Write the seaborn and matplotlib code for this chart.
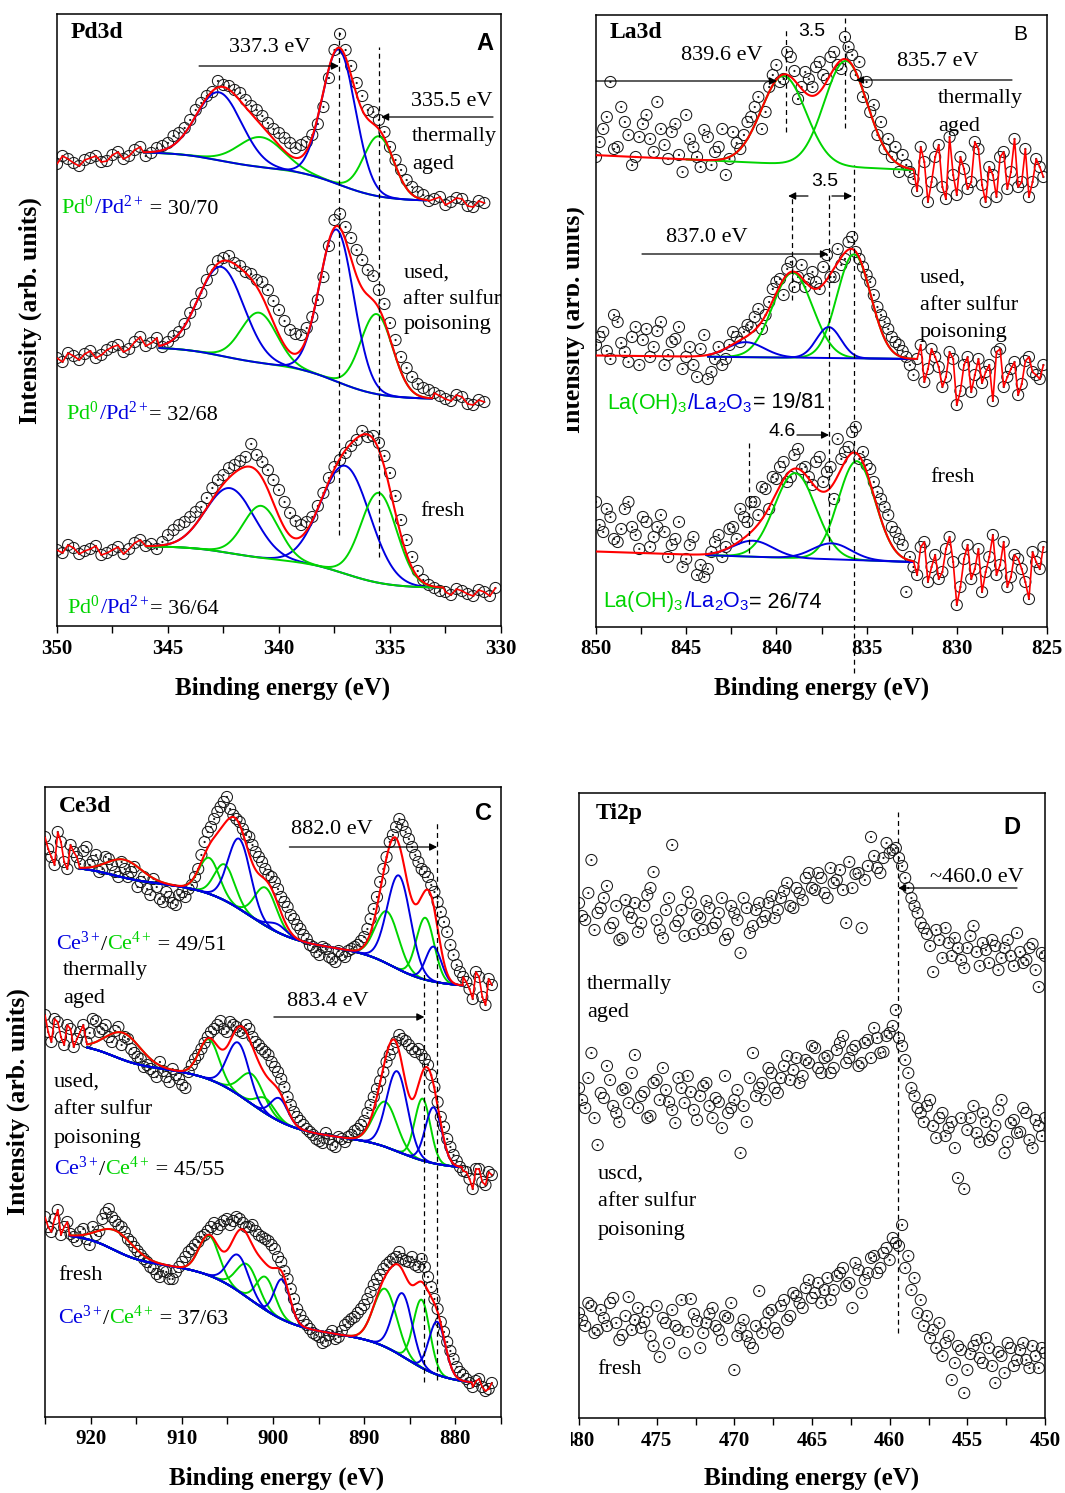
import numpy as np
import pandas as pd
import matplotlib
matplotlib.use("Agg")
import matplotlib.pyplot as plt
import seaborn as sns
from matplotlib.offsetbox import TextArea, HPacker, AnnotationBbox
from matplotlib.patches import Rectangle
from matplotlib.ticker import MultipleLocator

sns.set_style("white")
SERIF = ["Liberation Serif", "DejaVu Serif"]
SANS = ["Liberation Sans", "DejaVu Sans"]
plt.rcParams["font.family"] = SERIF
plt.rcParams["text.color"] = "black"
plt.rcParams["mathtext.fontset"] = "custom"
plt.rcParams["mathtext.rm"] = "Liberation Serif"
plt.rcParams["mathtext.it"] = "Liberation Serif:italic"
plt.rcParams["mathtext.bf"] = "Liberation Serif:bold"
plt.rcParams["mathtext.sf"] = "Liberation Sans"

GREEN = "#00D400"
BLUE = "#0000E0"
RED = "#FF0000"

# ---------------- data: Pd3d ----------------
PD_ENERGY = np.arange(350.0, 330.4, -0.5)          # 350 ... 330.5
PD_ENERGY_B = PD_ENERGY - 0.25                     # 349.75 ... 330.25
PD_AGED_I = [462, 467, 460, 468, 464, 471, 467, 476, 470, 478, 483, 493, 506, 523, 534, 541, 536, 526, 516, 503,
             493, 483, 481, 491, 519, 576, 576, 543, 516, 506, 479, 456, 439, 431, 427, 421, 428, 420, 425]
PD_AGED_I_B = [470, 463, 466, 470, 465, 474, 470, 479, 473, 480, 490, 498, 516, 530, 545, 540, 533, 520, 510, 497,
               488, 478, 484, 502, 548, 592, 560, 530, 514, 494, 466, 446, 434, 425, 429, 424, 427, 419, 423]
PD_USED_I = [268, 273, 266, 275, 271, 279, 274, 284, 280, 288, 284, 294, 313, 333, 356, 368, 363, 354, 346, 336,
             316, 296, 291, 309, 349, 406, 399, 376, 356, 336, 303, 269, 249, 238, 233, 227, 231, 222, 226]
PD_USED_I_B = [264, 270, 272, 268, 276, 281, 277, 289, 283, 279, 290, 302, 322, 346, 365, 370, 360, 352, 344, 325,
               305, 292, 298, 326, 380, 412, 388, 366, 350, 322, 286, 258, 242, 236, 230, 225, 229, 221, 224]
PD_FRESH_I = [76, 81, 72, 77, 71, 76, 72, 83, 80, 77, 91, 101, 109, 119, 138, 151, 161, 169, 171, 156,
              136, 113, 101, 109, 133, 159, 173, 186, 189, 183, 153, 106, 69, 46, 38, 34, 37, 32, 36, 30]
PD_FRESH_I_B = [73, 78, 75, 80, 73, 79, 77, 86, 82, 84, 96, 104, 114, 128, 146, 158, 165, 182, 164, 146,
                124, 105, 104, 120, 148, 166, 180, 195, 190, 170, 130, 86, 55, 41, 35, 31, 35, 30, 34, 38]
# fitted components: (colour, centre eV, height, FWHM)
PD_AGED_PEAKS = [("G", 335.5, 60, 1.6), ("G", 340.8, 30, 2.4), ("B", 337.3, 135, 1.75), ("B", 342.7, 68, 2.4)]
PD_USED_PEAKS = [("G", 335.6, 80, 1.7), ("G", 340.9, 50, 1.9), ("B", 337.4, 152, 1.8), ("B", 342.6, 89, 2.4)]
PD_FRESH_PEAKS = [("B", 337.0, 108, 2.6), ("B", 342.2, 65, 2.6), ("G", 335.5, 90, 1.9), ("G", 340.8, 52, 1.9)]
PD_AGED_BG = (474, 425, 342.7, 337.3)   # high level, low level, step centres
PD_USED_BG = (279, 227, 342.6, 337.4)
PD_FRESH_BG = (80, 38, 342.2, 337.0)
PD_AGED_FIT = (333.35, 346.1)
PD_USED_FIT = (333.1, 345.4)
PD_FRESH_FIT = (332.6, 346.0)

# ---------------- data: La3d ----------------
LA_ENERGY = np.arange(850.0, 825.1, -0.4)          # 850 ... 825.2
LA_ENERGY_B = LA_ENERGY[:-1] - 0.2                 # 849.8 ... 825.4
LA_AGED_I = [470, 498, 545, 480, 505, 462, 490, 512, 475, 498, 468, 503, 455, 488, 470, 497, 462, 480, 452, 495,
             478, 505, 520, 498, 540, 562, 548, 570, 528, 555, 540, 565, 548, 575, 558, 580, 552, 530, 515, 492,
             478, 470, 455, 462, 448, 480, 425, 470, 440, 490, 432, 458, 445, 478, 425, 452, 470, 438, 488, 445,
             430, 468, 450]
LA_AGED_I_B = [485, 510, 478, 520, 492, 470, 503, 488, 525, 482, 495, 472, 512, 480, 460, 490, 475, 498, 468, 484,
               492, 510, 530, 515, 552, 545, 575, 556, 540, 548, 560, 552, 570, 562, 590, 572, 565, 545, 522, 505,
               488, 480, 472, 455, 436, 465, 445, 482, 428, 452, 470, 438, 485, 442, 460, 430, 475, 455, 440, 478,
               445, 460]
LA_USED_I = [282, 295, 268, 305, 275, 290, 262, 298, 280, 305, 272, 288, 258, 280, 250, 292, 255, 280, 268, 295,
             285, 302, 310, 298, 325, 345, 332, 365, 350, 340, 355, 338, 372, 350, 362, 385, 375, 360, 345, 320,
             305, 290, 282, 270, 252, 282, 258, 270, 240, 275, 222, 262, 235, 268, 255, 226, 278, 250, 265, 243,
             270, 252, 262]
LA_USED_I_B = [290, 276, 312, 284, 265, 300, 287, 270, 296, 262, 285, 300, 270, 262, 278, 248, 268, 262, 282, 290,
               295, 300, 318, 312, 338, 348, 358, 340, 362, 348, 345, 360, 350, 378, 368, 390, 368, 352, 332, 312,
               298, 285, 276, 262, 268, 245, 278, 260, 250, 268, 236, 270, 252, 244, 262, 275, 240, 258, 232, 266,
               255, 248]
LA_FRESH_I = [125, 95, 110, 85, 118, 100, 78, 105, 90, 112, 70, 88, 60, 82, 52, 50, 75, 92, 80, 100,
              118, 105, 125, 140, 118, 148, 165, 150, 178, 160, 142, 170, 155, 128, 168, 180, 200, 175, 158, 135,
              120, 100, 88, 35, 60, 80, 45, 72, 55, 90, 22, 68, 48, 78, 55, 92, 62, 40, 72, 58,
              28, 65, 80]
LA_FRESH_I_B = [102, 118, 88, 98, 125, 92, 110, 80, 100, 95, 82, 105, 68, 90, 62, 58, 85, 70, 98, 88,
                110, 125, 112, 138, 150, 160, 145, 172, 158, 150, 165, 145, 160, 188, 175, 195, 168, 162, 145, 128,
                112, 95, 82, 70, 52, 85, 60, 48, 78, 65, 40, 82, 58, 35, 70, 52, 85, 50, 68, 45,
                75, 58]
LA_AGED_PEAKS = [("G", 839.6, 88, 2.9), ("G", 836.15, 106, 2.8)]
LA_USED_PEAKS = [("G", 839.1, 85, 2.6), ("G", 835.7, 104, 2.2), ("B", 841.7, 15, 2.4), ("B", 837.1, 31, 1.6)]
LA_FRESH_PEAKS = [("G", 838.96, 85, 2.7), ("G", 835.55, 99, 2.4), ("B", 841.3, 16, 2.6), ("B", 836.93, 16, 2.5)]
LA_AGED_BG = (457, 0.85)     # level at 832.5 eV, slope per eV
LA_USED_BG = (268, 0.2)
LA_FRESH_BG = (65, 0.6)
LA_AGED_FIT = (832.4, 845.0)
LA_USED_FIT = (832.3, 843.8)
LA_FRESH_FIT = (832.4, 843.9)

# ---------------- data: Ce3d ----------------
CE_ENERGY = np.arange(925.0, 875.9, -0.7)          # 925 ... 876
CE_ENERGY_B = CE_ENERGY[:-1] - 0.35                # 924.65 ... 876.35
CE_AGED_I = [580, 560, 585, 555, 572, 560, 566, 552, 562, 548, 558, 545, 555, 540, 550, 535, 528, 538, 518, 525,
             514, 522, 520, 532, 548, 575, 590, 605, 615, 608, 598, 588, 580, 565, 555, 542, 535, 520, 510, 498,
             488, 478, 470, 462, 468, 458, 466, 460, 468, 472, 480, 498, 520, 548, 575, 590, 592, 578, 562, 548,
             540, 525, 505, 485, 462, 445, 435, 418, 440, 412, 432]
CE_AGED_I_B = [568, 552, 575, 548, 565, 553, 570, 556, 545, 560, 552, 540, 548, 545, 530, 540, 522, 530, 515, 520,
               512, 525, 528, 540, 562, 585, 598, 610, 620, 602, 595, 582, 572, 560, 548, 540, 528, 515, 502, 492,
               482, 472, 465, 470, 460, 455, 462, 466, 470, 476, 488, 508, 535, 560, 582, 598, 585, 570, 555, 545,
               532, 515, 495, 472, 452, 440, 428, 445, 420, 438]
CE_USED_I = [402, 375, 395, 372, 388, 378, 392, 384, 396, 388, 380, 386, 372, 378, 364, 358, 352, 345, 355, 340,
             348, 338, 329, 352, 362, 374, 385, 392, 388, 395, 390, 384, 388, 375, 368, 362, 350, 338, 320, 305,
             296, 288, 282, 276, 284, 272, 280, 275, 282, 288, 296, 312, 328, 345, 362, 375, 378, 372, 365, 362,
             352, 330, 300, 278, 262, 250, 245, 228, 248, 232, 242]
CE_USED_I_B = [385, 398, 380, 392, 370, 385, 375, 398, 385, 392, 375, 390, 380, 368, 360, 350, 348, 340, 346, 335,
               342, 332, 345, 358, 368, 380, 388, 396, 385, 392, 386, 392, 380, 372, 365, 355, 345, 330, 312, 300,
               292, 285, 278, 274, 278, 270, 278, 280, 286, 292, 304, 320, 336, 355, 368, 382, 376, 368, 368, 358,
               342, 315, 290, 270, 256, 246, 238, 248, 235, 245]
CE_FRESH_I = [200, 185, 207, 190, 183, 176, 188, 172, 182, 198, 208, 196, 190, 178, 170, 162, 155, 148, 140, 145,
              138, 150, 160, 168, 175, 182, 190, 188, 196, 192, 200, 194, 190, 186, 180, 176, 168, 155, 138, 118,
              102, 92, 84, 80, 76, 86, 80, 92, 98, 104, 112, 125, 138, 148, 155, 160, 158, 155, 152, 158,
              140, 118, 95, 75, 58, 45, 38, 30, 38, 26, 34]
CE_FRESH_I_B = [190, 198, 182, 195, 180, 185, 178, 190, 186, 204, 200, 192, 185, 175, 166, 158, 150, 143, 146, 138,
                145, 155, 165, 172, 180, 186, 194, 192, 198, 196, 198, 190, 192, 182, 178, 172, 160, 146, 128, 108,
                96, 88, 82, 74, 82, 78, 86, 95, 100, 108, 118, 132, 142, 152, 158, 165, 156, 160, 150, 150,
                130, 108, 85, 66, 50, 42, 34, 36, 30, 28]
CE_AGED_PEAKS = [("G", 916.3, 18, 4.5), ("G", 907.0, 36, 2.6), ("G", 905.3, 36, 2.6), ("G", 900.8, 38, 2.8),
                 ("G", 887.5, 52, 3.0), ("G", 883.3, 62, 2.3),
                 ("B", 903.7, 70, 2.9), ("B", 899.5, 8, 2.4), ("B", 886.2, 94, 3.0), ("B", 882.4, 35, 2.0)]
CE_USED_PEAKS = [("G", 916.4, 27, 4.5), ("G", 907.0, 40, 2.6), ("G", 902.3, 30, 3.0), ("G", 900.8, 15, 2.4),
                 ("G", 887.7, 45, 3.0), ("G", 883.6, 62, 2.0),
                 ("B", 903.8, 52, 2.8), ("B", 899.3, 23, 2.2), ("B", 886.4, 80, 2.7), ("B", 882.4, 56, 2.1)]
CE_FRESH_PEAKS = [("G", 917.2, 20, 4.5), ("G", 907.0, 40, 2.6), ("G", 902.8, 33, 2.8), ("G", 900.8, 33, 2.4),
                  ("G", 887.7, 58, 3.0), ("G", 883.7, 68, 2.1),
                  ("B", 903.8, 36, 2.7), ("B", 899.0, 40, 2.0), ("B", 885.8, 63, 2.5), ("B", 882.0, 53, 2.1)]
# background: (low, slope, satellite step, 3d3/2 step, 3d5/2 step, 3d5/2 step centre, width)
CE_AGED_BG = (431, 0.6, 10, 54, 29, 886.8, 1.8)
CE_USED_BG = (249, 0.6, 18, 58, 22, 886.0, 1.8)
CE_FRESH_BG = (34, 0.6, 23, 59, 40, 885.3, 2.0)
CE_AGED_FIT = (879.2, 921.2)
CE_USED_FIT = (879.3, 920.4)
CE_FRESH_FIT = (878.2, 922.3)

# ---------------- data: Ti2p ----------------
TI_ENERGY = np.arange(480.0, 449.9, -0.4)          # 480 ... 450
TI_ENERGY_B = TI_ENERGY[:-1] - 0.2                 # 479.8 ... 450.2
TI_AGED_I = [515, 498, 558, 505, 520, 490, 512, 480, 506, 515, 495, 523, 546, 488, 508, 573, 497, 482, 515, 503,
             488, 510, 495, 520, 484, 505, 465, 510, 492, 515, 502, 522, 508, 527, 512, 530, 518, 545, 528, 540,
             520, 535, 548, 495, 530, 545, 538, 581, 550, 560, 565, 570, 552, 530, 512, 495, 484, 446, 478, 490,
             462, 470, 450, 482, 466, 475, 455, 472, 460, 478, 452, 466, 458, 474, 431, 462]
TI_AGED_I_B = [502, 525, 488, 510, 532, 495, 478, 518, 500, 486, 512, 530, 498, 480, 520, 492, 508, 526, 484, 500,
               517, 490, 505, 478, 512, 498, 520, 485, 508, 496, 515, 500, 520, 535, 510, 525, 540, 530, 545, 525,
               550, 538, 528, 556, 544, 490, 552, 562, 545, 575, 568, 560, 540, 520, 505, 490, 472, 488, 460, 475,
               480, 458, 470, 492, 452, 468, 478, 448, 470, 462, 485, 455, 470, 448, 465]
TI_USED_I = [330, 310, 365, 273, 320, 338, 305, 328, 315, 363, 322, 300, 335, 318, 328, 308, 340, 315, 326, 298,
             332, 312, 320, 290, 305, 318, 265, 296, 365, 330, 318, 345, 325, 352, 338, 360, 342, 355, 370, 345,
             362, 350, 375, 355, 368, 352, 375, 360, 380, 366, 385, 408, 372, 345, 322, 305, 312, 292, 300, 282,
             296, 240, 229, 300, 285, 305, 278, 292, 318, 276, 298, 286, 305, 270, 292, 300]
TI_USED_I_B = [318, 340, 300, 325, 352, 312, 296, 330, 345, 310, 326, 302, 338, 350, 316, 295, 330, 342, 308, 322,
               335, 300, 316, 342, 310, 328, 312, 340, 322, 335, 350, 330, 340, 362, 348, 335, 358, 372, 350, 360,
               345, 368, 382, 360, 372, 355, 378, 390, 365, 382, 392, 380, 358, 330, 310, 296, 318, 280, 305, 290,
               270, 300, 288, 312, 276, 296, 282, 308, 265, 295, 285, 310, 278, 298, 282]
TI_FRESH_I = [105, 92, 112, 88, 100, 115, 95, 83, 121, 98, 90, 106, 72, 61, 95, 108, 88, 65, 119, 97,
              85, 104, 92, 78, 100, 48, 90, 82, 70, 127, 95, 108, 85, 118, 102, 122, 110, 138, 125, 115,
              140, 128, 145, 132, 110, 148, 138, 160, 145, 165, 158, 175, 193, 162, 140, 118, 102, 88, 95, 75,
              38, 72, 25, 64, 78, 55, 70, 35, 62, 75, 52, 68, 58, 72, 50, 65]
TI_FRESH_I_B = [98, 115, 85, 108, 92, 120, 78, 102, 88, 110, 96, 82, 112, 100, 75, 92, 118, 86, 104, 70,
                95, 110, 88, 102, 115, 82, 98, 75, 92, 85, 105, 90, 112, 98, 125, 115, 130, 120, 135, 128,
                118, 142, 150, 135, 155, 125, 145, 162, 150, 170, 180, 172, 150, 128, 105, 92, 80, 70, 62, 82,
                55, 68, 48, 72, 60, 80, 52, 66, 45, 70, 58, 75, 50, 62, 70]


# ---------------- model helpers ----------------
def gauss(E, c, h, w):
    s = w / 2.3548
    return h * np.exp(-0.5 * ((E - c) / s) ** 2)


def step(E, c, w):
    return 1.0 / (1.0 + np.exp(-(E - c) / w))


def pd_bg(p):
    hi, lo, c32, c52 = p
    return lambda E: lo + (hi - lo) * (step(E, c32, 1.0) / 3 + 2 * step(E, c52, 1.0) / 3)


def la_bg(p):
    lvl, slope = p
    return lambda E: lvl + slope * (E - 832.5)


def ce_bg(p):
    low, slope, s0, s1, s2, c2, w2 = p
    return lambda E: (low + slope * (E - 879) + s0 * step(E, 917.5, 1.5)
                      + s1 * step(E, 902.5, 2.5) + s2 * step(E, c2, w2))


def merge(E1, I1, E2, I2):
    E = np.r_[np.asarray(E1[:len(I1)], float), np.asarray(E2[:len(I2)], float)]
    I = np.r_[np.asarray(I1, float), np.asarray(I2, float)]
    o = np.argsort(-E)
    return E[o], I[o]


def line(ax, x, y, color, lw=1.4, z=3):
    sns.lineplot(x=np.asarray(x, float), y=np.asarray(y, float), ax=ax, color=color, linewidth=lw,
                 estimator=None, sort=False, zorder=z)


def points(ax, E, I):
    df = pd.DataFrame({"E": E, "I": I})
    sns.scatterplot(data=df, x="E", y="I", ax=ax, s=64, marker="o", facecolor="none",
                    edgecolor="#1a1a1a", linewidth=0.75, zorder=2, legend=False)
    sns.scatterplot(data=df, x="E", y="I", ax=ax, s=2.5, marker="o", color="#1a1a1a",
                    edgecolor="none", linewidth=0, zorder=2, legend=False)


def fitted(ax, E, I, fit, env_hi, bgf, peaks, data_left=True):
    lo, hi = fit
    grid = np.linspace(lo, hi, 600)
    bg = bgf(grid)
    for col, c, h, w in peaks:
        line(ax, grid, bg + gauss(grid, c, h, w), BLUE if col == "B" else GREEN, 1.4, 3)
    eg = np.linspace(lo, env_hi, 900)
    env = bgf(eg) + sum(gauss(eg, c, h, w) for _, c, h, w in peaks)
    line(ax, eg, env, RED, 1.5, 4)
    m = E <= lo
    line(ax, np.r_[lo, E[m]], np.r_[env[0], I[m]], RED, 1.2, 4)
    if data_left:
        m = E >= hi
        line(ax, np.r_[E[m], hi], np.r_[I[m], env[-1]], RED, 1.2, 4)


def txt(ax, x, y, s, size=16, ha="left", va="center", family=SERIF, weight="normal", color="black"):
    ax.text(x, y, s, fontsize=size, ha=ha, va=va, family=family, fontweight=weight, color=color, zorder=7)


def mtext(ax, x, y, parts, size=16, family=SERIF):
    boxes = [TextArea(s, textprops=dict(color=c, fontsize=size, family=family)) for s, c in parts]
    pack = HPacker(children=boxes, align="baseline", pad=0, sep=0)
    ab = AnnotationBbox(pack, (x, y), xycoords="data", box_alignment=(0, 0.5), frameon=False, pad=0)
    ab.set_zorder(7)
    ax.add_artist(ab)


def arrow(ax, x0, x1, y):
    ax.annotate("", xy=(x1, y), xytext=(x0, y),
                arrowprops=dict(arrowstyle="-|>", color="black", lw=0.9, mutation_scale=11,
                                shrinkA=0, shrinkB=0), zorder=7)


def vdash(ax, x, y0, y1):
    ax.plot([x, x], [y0, y1], color="black", lw=0.9, ls=(0, (4, 3)), zorder=5, clip_on=False)


def style(ax, xlim, ylim, major, minor):
    ax.set_xlim(*xlim)
    ax.set_ylim(*ylim)
    ax.xaxis.set_major_locator(MultipleLocator(major))
    ax.xaxis.set_minor_locator(MultipleLocator(minor))
    ax.set_yticks([])
    ax.tick_params(axis="x", which="both", direction="out", length=5, width=1.0, bottom=True,
                   top=False, colors="black", labelsize=15, pad=4)
    ax.set_xlabel("")
    ax.set_ylabel("")
    ax.grid(False)
    for sp in ax.spines.values():
        sp.set_visible(True)
        sp.set_color("black")
        sp.set_linewidth(1.1)


W, H = 1065, 1493
fig = plt.figure(figsize=(W / 100, H / 100), dpi=100)


def add_axes(x0, y0, x1, y1):
    return fig.add_axes([x0 / W, 1 - y1 / H, (x1 - x0) / W, (y1 - y0) / H])


axA = add_axes(57, 14, 501, 626)
axB = add_axes(596, 15, 1047, 627)
axC = add_axes(45, 787, 501, 1417)
axD = add_axes(579, 793, 1045, 1418)

# ---------------- Panel A: Pd3d ----------------
for I, IB, peaks, bgp, fit in [(PD_AGED_I, PD_AGED_I_B, PD_AGED_PEAKS, PD_AGED_BG, PD_AGED_FIT),
                               (PD_USED_I, PD_USED_I_B, PD_USED_PEAKS, PD_USED_BG, PD_USED_FIT),
                               (PD_FRESH_I, PD_FRESH_I_B, PD_FRESH_PEAKS, PD_FRESH_BG, PD_FRESH_FIT)]:
    E, Iall = merge(PD_ENERGY, I, PD_ENERGY_B, IB)
    points(axA, E, Iall)
    fitted(axA, E, Iall, fit, fit[1], pd_bg(bgp), peaks)
style(axA, (350, 330), (0, 612), 5, 2.5)

txt(axA, 349.37, 593, "Pd3d", size=17, weight="bold")
txt(axA, 330.36, 583, "A", size=17, weight="bold", family=SANS, ha="right")
txt(axA, 340.4, 578, "337.3 eV", ha="center")
arrow(axA, 343.6, 337.3, 560)
vdash(axA, 337.3, 91, 594)
vdash(axA, 335.5, 69, 579)
txt(axA, 332.2, 524, "335.5 eV", ha="center")
arrow(axA, 330.36, 335.4, 509)
txt(axA, 334.0, 489, "thermally")
txt(axA, 334.0, 461, "aged")
mtext(axA, 349.8, 419, [("Pd$^{\\mathrm{0}}$", GREEN), ("/Pd$^{\\mathrm{2+}}$", BLUE), (" = 30/70", "black")])
txt(axA, 334.4, 353, "used,")
txt(axA, 334.4, 327, "after sulfur")
txt(axA, 334.4, 302, "poisoning")
mtext(axA, 349.6, 213, [("Pd$^{\\mathrm{0}}$", GREEN), ("/Pd$^{\\mathrm{2+}}$", BLUE), ("= 32/68", "black")])
txt(axA, 333.65, 114, "fresh")
mtext(axA, 349.55, 19, [("Pd$^{\\mathrm{0}}$", GREEN), ("/Pd$^{\\mathrm{2+}}$", BLUE), ("= 36/64", "black")])

# ---------------- Panel B: La3d ----------------
for I, IB, peaks, bgp, fit in [(LA_AGED_I, LA_AGED_I_B, LA_AGED_PEAKS, LA_AGED_BG, LA_AGED_FIT),
                               (LA_USED_I, LA_USED_I_B, LA_USED_PEAKS, LA_USED_BG, LA_USED_FIT),
                               (LA_FRESH_I, LA_FRESH_I_B, LA_FRESH_PEAKS, LA_FRESH_BG, LA_FRESH_FIT)]:
    E, Iall = merge(LA_ENERGY, I, LA_ENERGY_B, IB)
    points(axB, E, Iall)
    fitted(axB, E, Iall, fit, 850.0, la_bg(bgp), peaks, data_left=False)
style(axB, (850, 825), (0, 612), 5, 2.5)

txt(axB, 849.22, 594, "La3d", size=17, weight="bold")
txt(axB, 826.1, 593, "B", size=15, family=SANS, ha="right")
txt(axB, 838.03, 596, "3.5", size=14, family=SANS, ha="center")
vdash(axB, 839.47, 495, 599)
vdash(axB, 836.2, 499, 609)
txt(axB, 843.0, 572, "839.6 eV", ha="center")
arrow(axB, 850.0, 839.97, 546)
txt(axB, 831.04, 565, "835.7 eV", ha="center")
arrow(axB, 826.94, 835.59, 547)
txt(axB, 831.04, 529, "thermally")
txt(axB, 831.04, 501, "aged")
txt(axB, 837.3, 446, "3.5", size=14, family=SANS, ha="center")
arrow(axB, 838.25, 839.35, 431)
arrow(axB, 836.92, 835.8, 431)
vdash(axB, 839.14, 327, 432)
vdash(axB, 837.08, 77, 432)
vdash(axB, 835.7, -46, 462)
vdash(axB, 841.52, 74, 184)
txt(axB, 843.85, 390, "837.0 eV", ha="center")
arrow(axB, 847.45, 837.14, 373)
txt(axB, 832.04, 349, "used,")
txt(axB, 832.04, 321, "after sulfur")
txt(axB, 832.04, 294, "poisoning")
mtext(axB, 849.4, 224, [("La(OH)$_{\\mathsf{3}}$", GREEN), ("/La$_{\\mathsf{2}}$O$_{\\mathsf{3}}$", BLUE),
                        ("= 19/81", "black")], size=15.5, family=SANS)
txt(axB, 839.7, 195, "4.6", size=14, family=SANS, ha="center")
arrow(axB, 838.86, 837.08, 192)
txt(axB, 831.49, 149, "fresh")
mtext(axB, 849.6, 25, [("La(OH)$_{\\mathsf{3}}$", GREEN), ("/La$_{\\mathsf{2}}$O$_{\\mathsf{3}}$", BLUE),
                       ("= 26/74", "black")], size=15.5, family=SANS)

# ---------------- Panel C: Ce3d ----------------
for I, IB, peaks, bgp, fit in [(CE_AGED_I, CE_AGED_I_B, CE_AGED_PEAKS, CE_AGED_BG, CE_AGED_FIT),
                               (CE_USED_I, CE_USED_I_B, CE_USED_PEAKS, CE_USED_BG, CE_USED_FIT),
                               (CE_FRESH_I, CE_FRESH_I_B, CE_FRESH_PEAKS, CE_FRESH_BG, CE_FRESH_FIT)]:
    E, Iall = merge(CE_ENERGY, I, CE_ENERGY_B, IB)
    points(axC, E, Iall)
    fitted(axC, E, Iall, fit, fit[1], ce_bg(bgp), peaks)
style(axC, (925, 875), (0, 630), 10, 5)

txt(axC, 923.47, 611, "Ce3d", size=17, weight="bold")
txt(axC, 876.04, 604, "C", size=17, weight="bold", family=SANS, ha="right")
txt(axC, 893.5, 588, "882.0 eV", ha="center")
arrow(axC, 898.2, 882.0, 570)
vdash(axC, 882.0, 37, 597)
vdash(axC, 883.4, 35, 445)
txt(axC, 894.0, 415, "883.4 eV", ha="center")
arrow(axC, 899.9, 883.4, 400)
ce_parts = lambda r: [("Ce$^{\\mathrm{3+}}$", BLUE), ("/", "black"), ("Ce$^{\\mathrm{4+}}$", GREEN), (r, "black")]
mtext(axC, 923.8, 474, ce_parts(" = 49/51"))
txt(axC, 923.0, 446, "thermally")
txt(axC, 923.0, 418, "aged")
txt(axC, 924.0, 335, "used,")
txt(axC, 924.0, 307, "after sulfur")
txt(axC, 924.0, 279, "poisoning")
mtext(axC, 924.0, 249, ce_parts(" = 45/55"))
txt(axC, 923.6, 142, "fresh")
mtext(axC, 923.6, 100, ce_parts(" = 37/63"))

# ---------------- Panel D: Ti2p ----------------
for I, IB in [(TI_AGED_I, TI_AGED_I_B), (TI_USED_I, TI_USED_I_B), (TI_FRESH_I, TI_FRESH_I_B)]:
    E, Iall = merge(TI_ENERGY, I, TI_ENERGY_B, IB)
    points(axD, E, Iall)
style(axD, (480, 450), (0, 625), 5, 2.5)

txt(axD, 478.9, 605, "Ti2p", size=17, weight="bold")
txt(axD, 451.6, 591, "D", size=17, weight="bold", family=SANS, ha="right")
txt(axD, 454.4, 541, "~460.0 eV", ha="center")
arrow(axD, 451.8, 459.46, 530)
vdash(axD, 459.48, 85, 606)
txt(axD, 479.5, 433, "thermally")
txt(axD, 479.5, 405, "aged")
txt(axD, 478.8, 244, "uscd,")
txt(axD, 478.8, 216, "after sulfur")
txt(axD, 478.8, 188, "poisoning")
txt(axD, 478.8, 48, "fresh")

for ax in (axA, axB, axC, axD):
    for lab in ax.get_xticklabels():
        lab.set_fontweight("bold")

# ---------------- axis titles ----------------
for (x, y) in [(283, 688), (822, 688), (277, 1478), (812, 1478)]:
    fig.text(x / W, 1 - y / H, "Binding energy (eV)", ha="center", va="center", fontsize=18, fontweight="bold")
for (x, y) in [(30, 311), (573, 320), (18, 1102)]:
    fig.text(x / W, 1 - y / H, "Intensity (arb. units)", ha="center", va="center", rotation=90,
             fontsize=18.5, fontweight="bold")
# cropped parts of the original figure
fig.add_artist(Rectangle((540 / W, 1 - 470 / H), 27 / W, 300 / H, transform=fig.transFigure,
                         facecolor="white", edgecolor="none", zorder=10))
fig.add_artist(Rectangle((550 / W, 1 - 1460 / H), 21 / W, 34 / H, transform=fig.transFigure,
                         facecolor="white", edgecolor="none", zorder=10))

fig.savefig("out.png", dpi=100)
